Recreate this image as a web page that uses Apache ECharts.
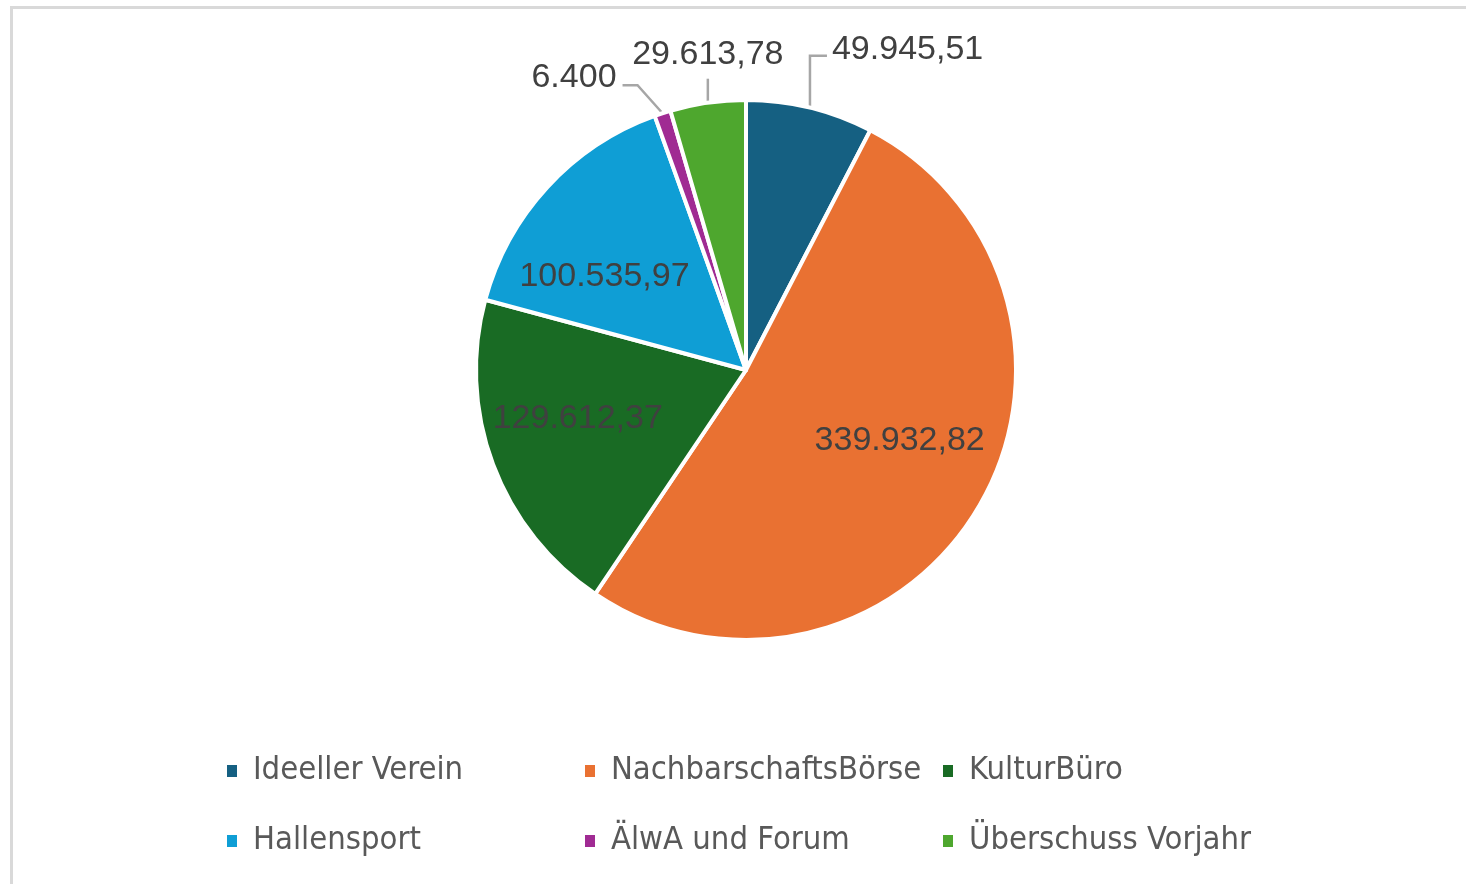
<!DOCTYPE html>
<html>
<head>
<meta charset="utf-8">
<script src="https://cdn.jsdelivr.net/npm/echarts@6/dist/echarts.min.js"></script>
<style>
  html, body { margin: 0; padding: 0; background: #ffffff; }
  #frame { position: absolute; left: 10px; top: 6px; right: -10px; bottom: -10px;
           border-top: 3px solid #d9d9d9; border-left: 3px solid #d9d9d9; }
  #chart { position: absolute; left: 0; top: 0; width: 1466px; height: 884px; }
</style>
</head>
<body>
<div id="frame"></div>
<div id="chart"></div>
<script>
// ---- data ----
const categories = ['Ideeller Verein', 'NachbarschaftsBörse', 'KulturBüro', 'Hallensport', 'ÄlwA und Forum', 'Überschuss Vorjahr'];
const values = [49945.51, 339932.82, 129612.37, 100535.97, 6400, 29613.78];
const colors = ['#156082', '#E97132', '#196B24', '#0F9ED5', '#A02B93', '#4EA72E'];

// ---- label style tuning (not data) ----
const insideIdx = [1, 2, 3];
const insideShiftX = { 1: 35, 2: -39, 3: -40 };

function fmtDE(v) {
  const neg = v < 0; v = Math.abs(v);
  let s = (Math.round(v * 100) / 100).toFixed(2);
  let [ip, dp] = s.split('.');
  ip = ip.replace(/\B(?=(\d{3})+(?!\d))/g, '.');
  if (dp === '00') return (neg ? '-' : '') + ip;
  return (neg ? '-' : '') + ip + ',' + dp;
}

const labelFont = "'Liberation Sans', Arial, sans-serif";

const seriesData = categories.map((name, i) => {
  const inside = insideIdx.indexOf(i) >= 0;
  return {
    name: name,
    value: values[i],
    itemStyle: { color: colors[i] },
    label: { position: inside ? 'inside' : 'outside' },
    labelLine: { show: !inside }
  };
});

const chart = echarts.init(document.getElementById('chart'), null, { renderer: 'canvas' });

const option = {
  backgroundColor: 'transparent',
  animation: false,
  legend: {
    data: categories,
    left: 225,
    top: 736,
    width: 1080,
    padding: 0,
    orient: 'horizontal',
    itemWidth: 12,
    itemHeight: 14,
    itemGap: 0,
    icon: 'rect',
    selectedMode: false,
    textStyle: {
      fontFamily: "'Liberation Sans Narrow', 'DejaVu Sans Condensed', sans-serif",
      fontSize: 32.5,
      color: '#595959',
      width: 330,
      lineHeight: 70,
      padding: [0, 0, 0, 10],
      overflow: 'none'
    }
  },
  series: [{
    type: 'pie',
    center: [746, 370],
    radius: [0, 270],
    startAngle: 90,
    clockwise: true,
    avoidLabelOverlap: false,
    itemStyle: { borderColor: '#ffffff', borderWidth: 4 },
    label: {
      show: true,
      formatter: p => fmtDE(p.value),
      fontFamily: labelFont,
      fontSize: 34,
      color: '#404040'
    },
    labelLine: {
      show: true,
      length: 20,
      length2: 10,
      lineStyle: { color: '#a6a6a6', width: 2.5 }
    },
    emphasis: { disabled: true },
    labelLayout: function (params) {
      const i = params.dataIndex;
      if (insideIdx.indexOf(i) >= 0) {
        return { dx: insideShiftX[i] || 0 };
      }
      const pts = params.labelLinePoints;
      if (!pts) return {};
      const p0 = pts[0];
      if (i === 0) {
        const y1 = p0[1] - 52;
        return {
          x: p0[0] + 22, y: y1 - 6, align: 'left', verticalAlign: 'middle',
          labelLinePoints: [p0, [p0[0], y1], [p0[0] + 17, y1]]
        };
      }
      if (i === 5) {
        const y1 = p0[1] - 24;
        return {
          x: p0[0], y: p0[1] - 48, align: 'center', verticalAlign: 'middle',
          labelLinePoints: [p0, [p0[0], y1], [p0[0], y1]]
        };
      }
      if (i === 4) {
        const y1 = p0[1] - 28;
        return {
          x: p0[0] - 46, y: p0[1] - 36, align: 'right', verticalAlign: 'middle',
          labelLinePoints: [p0, [p0[0] - 25, y1], [p0[0] - 40, y1]]
        };
      }
      return {};
    },
    data: seriesData
  }]
};

chart.setOption(option);
</script>
</body>
</html>
